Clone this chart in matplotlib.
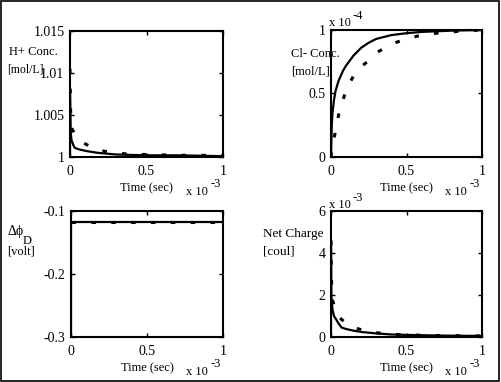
import numpy as np
import matplotlib
matplotlib.use("Agg")
import matplotlib.pyplot as plt
from matplotlib.patches import Rectangle

plt.rcParams['font.family'] = ['Liberation Serif', 'DejaVu Serif']
plt.rcParams['font.size'] = 10

# time axis in units of 1e-3 sec
# H+ concentration [mol/L]
t_h_solid = [0, 0, 0.004, 0.01, 0.02, 0.03, 0.06, 0.11, 0.18, 0.3, 0.5, 0.7, 1.0]
h_solid = [1.0, 1.0078, 1.003, 1.002, 1.0015, 1.0011, 1.0009, 1.0007, 1.0005, 1.0003, 1.0002, 1.0002, 1.0001]
t_h_dash = [0, 0.004, 0.008, 0.03, 0.085, 0.18, 0.3, 0.4, 0.5, 0.7, 1.0]
h_dash = [1.0105, 1.0055, 1.0035, 1.0028, 1.0017, 1.0008, 1.0005, 1.0003, 1.0003, 1.0002, 1.0002]

# Cl- concentration [x 1e-4 mol/L]
t_cl_solid = [0, 0.005, 0.01, 0.02, 0.03, 0.05, 0.08, 0.1, 0.15, 0.2, 0.25, 0.3, 0.4, 0.5, 0.6, 0.8, 1.0]
cl_solid = [0, 0.25, 0.35, 0.45, 0.52, 0.6, 0.68, 0.72, 0.8, 0.86, 0.9, 0.93, 0.96, 0.975, 0.985, 0.995, 1.0]
t_cl_dash = [0, 0.01, 0.03, 0.05, 0.1, 0.15, 0.2, 0.25, 0.3, 0.4, 0.5, 0.6, 0.7, 0.8, 0.9, 1.0]
cl_dash = [0, 0.1, 0.2, 0.33, 0.53, 0.64, 0.71, 0.76, 0.82, 0.89, 0.93, 0.96, 0.975, 0.985, 0.995, 1.0]

# membrane potential [volt]
t_phi_solid = [0, 0, 1.0]
phi_solid = [-0.3, -0.117, -0.117]
t_phi_dash = [0, 1.0]
phi_dash = [-0.117, -0.117]

# net charge [x 1e-3 coul]
t_q_solid = [0, 0, 0.002, 0.01, 0.02, 0.05, 0.07, 0.1, 0.15, 0.2, 0.3, 0.4, 0.5, 0.7, 1.0]
q_solid = [0, 4.5, 1.9, 1.3, 1.0, 0.65, 0.45, 0.38, 0.3, 0.24, 0.17, 0.12, 0.1, 0.07, 0.05]
t_q_dash = [0, 0.005, 0.02, 0.06, 0.1, 0.15, 0.25, 0.36, 0.5, 0.7, 1.0]
q_dash = [4.6, 1.9, 1.5, 0.9, 0.65, 0.45, 0.25, 0.15, 0.1, 0.07, 0.05]

x_ticks = [0, 0.5, 1]
x_labels = ['0', '0.5', '1']

W, H = 501, 382
fig = plt.figure(figsize=(W / 100, H / 100), dpi=100)
fig.patches.append(Rectangle((0.002, 0.003), 0.995, 0.994, transform=fig.transFigure,
                             fill=False, edgecolor='black', linewidth=1.2))


def make_axes(l, r, t, b):
    ax = fig.add_axes([l / W, 1 - b / H, (r - l) / W, (b - t) / H])
    for s in ax.spines.values():
        s.set_linewidth(1.5)
    ax.tick_params(direction='in', top=True, right=True, length=3, width=1)
    ax.tick_params(axis='x', pad=6)
    ax.tick_params(axis='y', pad=4)
    ax.set_xlim(0, 1)
    ax.set_xticks(x_ticks)
    ax.set_xticklabels(x_labels)
    return ax


dash_style = dict(color='black', linewidth=2.2, linestyle=(0, (1.5, 5)))
solid_style = dict(color='black', linewidth=1.6)

# top left: H+
ax1 = make_axes(70, 223, 31, 157)
ax1.plot(t_h_solid, h_solid, **solid_style)
ax1.plot(t_h_dash, h_dash, **dash_style)
ax1.set_ylim(1, 1.015)
ax1.set_yticks([1, 1.005, 1.01, 1.015])
ax1.set_yticklabels(['1', '1.005', '1.01', '1.015'])

# top right: Cl-
ax2 = make_axes(331, 482, 30, 157)
ax2.plot(t_cl_solid, cl_solid, **solid_style)
ax2.plot(t_cl_dash, cl_dash, **dash_style)
ax2.set_ylim(0, 1)
ax2.set_yticks([0, 0.5, 1])
ax2.set_yticklabels(['0', '0.5', '1'])

# bottom left: delta phi
ax3 = make_axes(71, 223, 211, 337)
ax3.plot(t_phi_solid, phi_solid, **solid_style)
ax3.plot(t_phi_dash, phi_dash, **dash_style)
ax3.set_ylim(-0.3, -0.1)
ax3.set_yticks([-0.3, -0.2, -0.1])
ax3.set_yticklabels(['-0.3', '-0.2', '-0.1'])

# bottom right: net charge
ax4 = make_axes(331, 482, 211, 337)
ax4.plot(t_q_solid, q_solid, **solid_style)
ax4.plot(t_q_dash, q_dash, **dash_style)
ax4.set_ylim(0, 6)
ax4.set_yticks([0, 2, 4, 6])
ax4.set_yticklabels(['0', '2', '4', '6'])


def ftext(x, y, s, size=9, **kw):
    fig.text(x / W, 1 - y / H, s, va='center', fontsize=size, **kw)


# x labels and exponents
for xl, xr, yb in [(70, 223, 157), (331, 482, 157), (71, 223, 337), (331, 482, 337)]:
    ftext((xl + xr) / 2, yb + 31, 'Time (sec)', ha='center')
    ftext(xr - 37, yb + 35, 'x 10', ha='left')
    ftext(xr - 12, yb + 27, '-3', ha='left')

# y exponents above axes
ftext(329, 23, 'x 10', ha='left')
ftext(353, 16, '-4', ha='left')
ftext(329, 205, 'x 10', ha='left')
ftext(353, 198, '-3', ha='left')

# y labels
ftext(9, 52, 'H+ Conc.', ha='left')
ftext(7, 70, '[mol/L]', size=8.5, ha='left')
ftext(291, 54, 'Cl- Conc.', ha='left')
ftext(291, 72, '[mol/L]', ha='left')
ftext(7, 232, 'Δϕ', size=10, ha='left')
ftext(23, 241, 'D', ha='left')
ftext(7, 252, '[volt]', ha='left')
ftext(263, 234, 'Net Charge', size=9.5, ha='left')
ftext(263, 251, '[coul]', size=9.5, ha='left')

fig.savefig('out.png', dpi=100)
